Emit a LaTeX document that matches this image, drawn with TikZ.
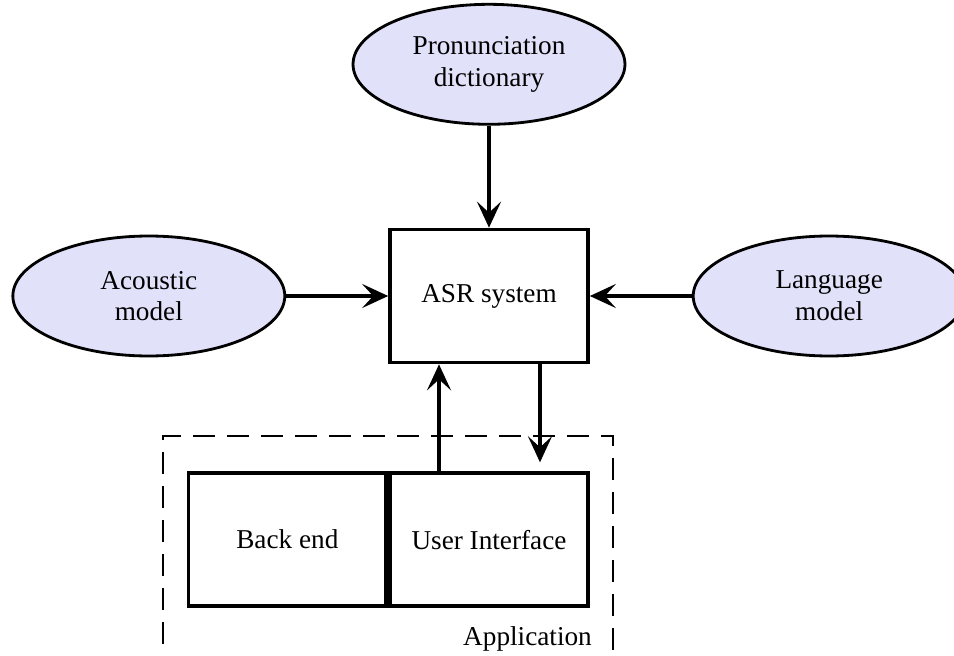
\documentclass[tikz,border=0pt]{standalone}
\usepackage{fontspec}
\setmainfont{Liberation Serif}
\usepackage{tikz}
\usetikzlibrary{shapes.geometric,arrows.meta,positioning}
\definecolor{modelfill}{RGB}{225,225,250}

\begin{document}
\begin{tikzpicture}[
    x=0.02cm, y=-0.02cm,
    node distance=2.04cm,
    font=\fontsize{15.5}{18}\selectfont,
    model/.style={ellipse, draw=black, line width=1.6pt, fill=modelfill, align=center, minimum width=5.44cm, minimum height=2.4cm, inner sep=0pt},
    block/.style={rectangle, draw=black, line width=2.1pt, minimum width=3.96cm, minimum height=2.66cm},
    frame/.style={rectangle, draw=black, line width=0.9pt, dash pattern=on 0.44cm off 0.24cm, minimum width=9cm, minimum height=4.8cm},
    arr/.style={-{Stealth[length=0.52cm, width=0.48cm, inset=0.22cm]}, line width=1.9pt}
]
\useasboundingbox (0,0) rectangle (954,656);
\clip (0,0) rectangle (954,656);

\node (asr) [block] at (489,296) {ASR system};
\node (pron) [model, above=of asr] {Pronunciation\\dictionary};
\node (acoustic) [model, left=of asr] {Acoustic\\model};
\node (language) [model, right=of asr] {Language\\model};
\node (ui) [block, below=2.14cm of asr] {User Interface};
\node (backend) [block, left=0pt of ui] {Back end};
\node (app) [frame] at (388,556) {};
\node (applabel) [anchor=base east] at (598,645) {Application};

\draw[arr] (pron) -- (asr);
\draw[arr] (acoustic) -- (asr);
\draw[arr] (language) -- (asr);
\draw[arr] ([xshift=-1cm]asr.south |- ui.north) -- ([xshift=-1cm]asr.south);
\draw[arr, shorten >=0.18cm] ([xshift=1.02cm]asr.south) -- ([xshift=1.02cm]asr.south |- ui.north);
\end{tikzpicture}
\end{document}
